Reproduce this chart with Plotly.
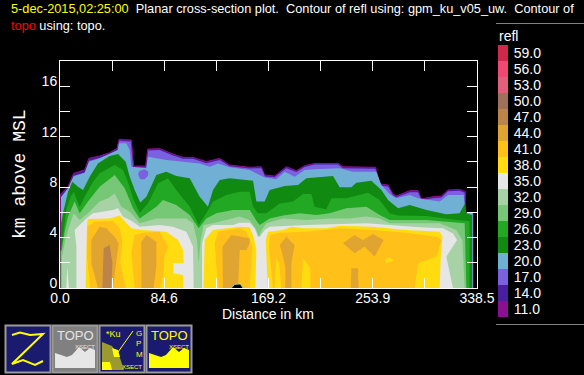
import plotly.graph_objects as go

W, H = 584, 375

# ---- colour scale categories ----
levels = [11.0, 14.0, 17.0, 20.0, 23.0, 26.0, 29.0, 32.0, 35.0, 38.0, 41.0, 44.0, 47.0, 50.0, 53.0, 56.0, 59.0]
level_colors = ["#8b1090", "#4a1e9e", "#7b60e0", "#6fb0d4", "#108a10", "#22a822", "#76c876", "#a6d2a6",
                "#e6e6e6", "#ffdc10", "#ffc01a", "#e0a530", "#bc8448", "#a0705a", "#e0607c", "#f04870", "#d0284a"]

# ---- contour outlines: distance (km) and height (km) for reflectivity >= level ----
d14 = [0.5,0.5,6.5,11.1,20,23.5,32.2,40.3,46.3,47.9,57.9,59.8,69.5,71.2,80.9,91.7,99.9,108,118.8,129.6,137.7,154,163.4,166.1,174.3,183.7,191.9,198.6,206.7,225.7,229.7,256.2,259.5,266.3,270.3,273,283.9,290.6,293.3,302.8,309.6,315,324.4,329,329,335.3,335.3]
h14 = [0,7.45,8.03,9.09,9.36,10.28,10.47,10.73,11.07,11.79,11.73,9.67,9.67,11.02,11.05,10.62,10.36,10.36,10.02,10.28,9.75,9.57,9.62,8.96,8.88,9.62,9.3,9.7,9.88,9.88,9.62,9.57,8.25,8.17,7.45,7.29,7.72,7.72,7.06,7.24,7.29,7.77,7.82,7.64,5.97,5.97,0]

d17 = [0.8,0.8,6.5,11.3,20.2,23.7,32.2,40.3,46.5,48.2,57.5,59.3,70,71.6,80.9,91.7,99.9,108,118.8,129.6,137.7,154,163.4,166.5,174.3,183.7,191.9,198.6,206.7,225.7,229.7,256,259.5,266.3,270.3,273,283.9,290.6,293.3,302.8,309.6,315,324.4,328.5,328.5,335,335]
h17 = [0,7.2,7.9,8.85,9.15,10.1,10.3,10.6,10.95,11.68,11.62,9.55,9.55,10.9,10.95,10.5,10.24,10.24,9.9,10.15,9.65,9.48,9.5,8.85,8.78,9.5,9.2,9.6,9.8,9.8,9.5,9.45,8.1,8.05,7.35,7.2,7.6,7.6,6.95,7.12,7.18,7.68,7.72,7.55,5.95,5.95,0]

d20 = [0.8,0.8,6.5,11.1,20,23.5,32.2,40.3,47.1,47.9,53.8,56.6,57.9,70.1,71.4,86.3,98.5,113.4,121.5,128.3,137.7,154,162.1,166.1,175.6,182.4,190.5,198.6,206.7,227,237.9,256.8,260.9,267.6,273,283.9,290.6,308.2,315,327.7,329,335,335]
h20 = [0,7.2,7.9,8.88,9.14,10.02,10.28,10.62,10.94,11.47,11.47,10.94,9.62,9.49,10.41,10.15,10.02,9.88,9.62,9.88,9.57,9.36,8.96,8.77,8.62,9.22,8.83,9.36,9.41,9.49,9.22,9.22,8.17,7.45,7.11,7.37,7.11,6.85,7.37,7.37,5.97,5.95,0]

d17_hole = [63.3,64.7,68.7,71.7,71.4,68.7,65.1]
h17_hole = [9.04,9.3,9.41,9.22,8.88,8.62,8.62]

d23 = [0.6,0.6,2.4,6.5,10,14.6,18.7,24.1,30.8,40.3,47.1,53.3,56.6,60.6,65.2,70.1,78.2,86.3,94.4,105.3,113.4,120.1,124.2,129.6,137.7,154,156.7,159.4,166.1,170.2,182.4,193.2,200,221.6,227,236.5,240.6,252.7,260.9,266.3,274.4,283.9,297.4,313.6,324.4,328.5,329.9,334.5,334.5]
h23 = [0,5.0,5.92,7.64,8.43,8.03,7.77,8.83,9.88,10.47,10.62,10.02,8.83,7.77,6.77,7.24,8.96,9.22,8.88,8.7,7.24,6.45,7.77,8.56,8.7,8.51,8.51,6.85,6.85,7.77,8.09,8.17,8.7,8.88,7.98,7.98,8.35,8.51,7.77,6.98,6.32,6.58,6.18,5.84,5.92,6.66,5.92,5.79,0]

d26 = [0.6,0.6,2.4,5.1,8.7,11.1,16,20,26.8,32.2,44.4,51.1,55.2,59.3,64.7,71.4,79.6,87.7,94.4,105.3,112.6,118.8,124.2,135,145.9,154,156.7,160.7,167.5,178.3,189.1,197.3,204,206.7,216.2,220.3,232.4,250,259.5,267.6,274.4,297.4,313.6,332.5,332.5]
h26 = [0,3.0,4.07,6.18,7.24,7.64,6.45,7.24,8.43,9.09,9.75,9.36,8.43,7.11,5.97,6.71,8.3,8.7,7.77,6.45,5.0,5.92,6.85,7.37,7.64,7.64,6.45,5.92,5.92,6.71,6.85,7.45,7.45,6.45,6.24,7.11,7.11,7.56,6.98,5.92,5.75,5.7,5.5,5.3,0]

d29 = [0.6,0.6,1.4,3.8,6.5,11.9,16,22.7,32.2,44.4,52.5,59.3,64.7,78.2,83.6,94.4,105.3,112.6,118.8,126.9,140.4,154,159.4,162.1,170.2,181,194.6,208.1,218.9,232.4,248.7,259.5,267.6,297.4,313.6,328.5,329.9]
h29 = [0,2.9,3.0,4.47,5.66,6.85,5.92,6.85,8.03,8.96,7.9,6.32,5.52,6.45,6.98,6.58,5.79,4.73,5.52,5.92,6.18,6.18,5.34,5.0,5.52,5.74,5.92,5.79,5.92,6.32,6.45,5.79,5.39,5.39,5.26,5.13,0]

d32 = [1.6,1.6,4.3,6.5,11.1,16,22.7,32.2,39,44.4,49.8,56.6,64.7,78.2,102.6,108,111.2,112.6,114.2,116.6,124.2,140.4,145.9,154,159.4,161.5,163.7,167.5,181,200,218.9,235,248.7,259.5,267.6,308.2,321.7,326.6,328.5]
h32 = [0,2.48,3.8,4.6,5.92,5.39,5.92,6.85,7.11,7.5,6.45,6.05,5.13,5.52,5.52,5.13,3.8,1.96,3.8,5.0,5.13,5.52,5.66,5.39,4.6,4.07,4.6,5.13,5.52,5.39,5.52,5.52,5.66,5.52,5.13,5.13,4.6,3.8,0]

d35 = [13.3,13.3,11.9,21.4,26.8,43,47.1,51.1,59.3,64.7,80.9,91.7,102.6,108,108.5,None,
       115.3,115.3,118.8,124.2,140.4,145.9,154,158,160.7,162.1,166.1,170.2,200,248.7,292,310.9,319,322.3,313.6,319,None,
       5.1,5.9,7.3]
h35 = [0,3.28,4.6,5.52,5.92,6.18,6.32,5.66,5.26,4.86,5.0,4.86,4.47,3.28,0,None,
       0,3.54,4.73,5.0,5.0,5.18,5.18,4.73,4.07,4.07,4.6,4.86,5.0,5.13,4.81,4.73,4.33,3.8,2.48,0,None,
       0,1.69,0]

d38 = [20.8,21.9,22.7,40.3,48.4,57.9,67.4,86.3,95.8,99.9,100.4,91.7,91.7,99.9,99.9,None,
       116.6,117.4,124.2,137.7,145.9,154,157.2,159.4,158.6,None,
       168.6,167,168.8,181,187.8,197.3,216.2,227,254.1,281.1,308.2,310.4,309,308.2]
h38 = [0,5.13,5.47,5.52,5.74,4.73,4.6,4.47,3.8,3.01,1.96,1.96,1.16,1.03,0,None,
       0,3.8,4.6,4.73,4.86,4.81,4.07,3.01,0,None,
       0,3.8,4.47,4.6,4.86,4.73,4.73,4.94,4.86,4.6,4.47,4.07,2.22,0]

d41 = [24.6,21.9,22.2,28.1,43,48.4,50.6,49,53.3,None,
       60.6,57.9,60.6,67.4,80.9,87.7,85,83.6,80.9,None,
       128.3,125.6,128.3,137.7,145.9,151.3,156.1,154,None,
       172.9,169.7,170.2,178.3,200,227,254.1,281.1,305.5,309.6,305.5,290.6,287.9]
h41 = [0,2.48,4.86,5.26,5.31,4.73,3.8,1.96,0,None,
       0,2.75,4.2,4.39,4.47,3.28,2.62,0.9,0,None,
       0,3.54,4.47,4.6,4.73,4.47,3.28,0,None,
       0,3.28,4.2,4.39,4.47,4.73,4.6,4.39,4.07,3.8,2.48,1.96,0]

d38_inner = [174.3,175.6,177.8,179.7,None,195.9,197.3,203.2,203.2,None,263.6,267.6,270.9,264.9]
h38_inner = [0,2.35,1.96,0,None,0,2.35,1.56,0,None,2.22,2.43,2.17,1.96]

d44 = [30.8,25.4,25.4,32.2,37.6,44.4,47.6,45.7,43,None,
       66,66,70.1,78.2,78.2,76,None,
       132.3,131.8,139.1,154,154,151.3,145.9,144.5,None,
       182.9,182.9,179.7,178.3,183.7,190.5,187.8,187.8,None,
       229.7,239.2,246,254.1,262.7,255.4,247.3,239.2,None,
       236,236.5,241.9,242.4]
h44 = [0,1.96,3.8,4.86,4.73,4.07,3.54,1.96,0,None,
       0,3.67,4.2,3.67,1.69,0,None,
       0,3.28,4.2,3.94,3.54,3.01,3.01,0,None,
       0,1.69,3.01,3.41,4.07,3.41,1.96,0,None,
       3.54,4.2,3.8,4.28,3.8,2.48,3.28,2.75,None,
       0,1.56,1.56,0]

d47 = [34.4,35.4,40.3,42.5,41.7]
h47 = [0,3.15,3.41,1.96,0]

topo_d = [139.1,141.8,146.4,148.6]
topo_h = [0,0.29,0.32,0]

# ---- axes ----
x_ticks = [0, 42.31, 84.62, 126.94, 169.25, 211.56, 253.88, 296.19, 338.5]
x_labels = ["0.0", "", "84.6", "", "169.2", "", "253.9", "", "338.5"]
y_ticks = [0, 2, 4, 6, 8, 10, 12, 14, 16]
y_labels = ["0", "", "4", "", "8", "", "12", "", "16"]

FONT = "Liberation Sans"

fig = go.Figure()


def band(x, y, color, line=None):
    fig.add_trace(go.Scatter(x=x, y=y, mode="lines", fill="toself", fillcolor=color,
                             line=dict(color=line or color, width=1 if line else 0),
                             hoverinfo="skip", showlegend=False, connectgaps=False))


c = dict(zip(levels, level_colors))
band(d14, h14, c[14.0], c[11.0])
band(d17, h17, c[17.0])
band(d20, h20, c[20.0])
band(d17_hole, h17_hole, c[17.0])
band(d23, h23, c[23.0])
band(d26, h26, c[26.0])
band(d29, h29, c[29.0])
band(d32, h32, c[32.0])
band(d35, h35, c[35.0])
band(d38, h38, c[38.0])
band(d41, h41, c[41.0])
band(d38_inner, h38_inner, c[38.0])
band(d44, h44, c[44.0])
band(d47, h47, c[47.0])
band(topo_d, topo_h, "#000000", "#9ad09a")

# colour key
fig.add_trace(go.Bar(x=[0] * len(levels), y=[1] * len(levels), base=list(range(len(levels))),
                     marker=dict(color=level_colors, line=dict(width=0)), width=1,
                     xaxis="x2", yaxis="y2", hoverinfo="skip", showlegend=False))

axis_common = dict(showgrid=False, zeroline=False, showline=True, linecolor="white", linewidth=1,
                   mirror="ticks", ticks="inside", ticklen=10, tickcolor="white", tickwidth=1,
                   automargin=False, tickfont=dict(family=FONT, size=14, color="white"))

fig.update_layout(
    width=W, height=H, autosize=False, paper_bgcolor="black", plot_bgcolor="black",
    margin=dict(l=0, r=0, t=0, b=0), bargap=0,
    font=dict(family=FONT, color="white"),
    xaxis=dict(domain=[60 / W, 477 / W], range=[0, 338.5], tickmode="array", tickvals=x_ticks,
               ticktext=x_labels, anchor="y", ticklabelstandoff=-3, **axis_common),
    yaxis=dict(domain=[(H - 288) / H, (H - 61) / H], range=[0, 18], tickmode="array", tickvals=y_ticks,
               ticktext=y_labels, anchor="x", ticklabelshift=-5, ticklabelstandoff=-1, **axis_common),
    xaxis2=dict(domain=[498 / W, 508 / W], range=[-0.5, 0.5], visible=False, anchor="y2", fixedrange=True,
                automargin=False),
    yaxis2=dict(domain=[(H - 317) / H, (H - 45) / H], range=[0, len(levels)], anchor="x2", side="right",
                tickmode="array", tickvals=[i + 0.5 for i in range(len(levels))],
                ticktext=[f"{v:.1f}" for v in levels], showgrid=False, zeroline=False, showline=False,
                ticks="outside", ticklen=2, tickcolor="black", automargin=False,
                tickfont=dict(family=FONT, size=14, color="white")),
)


def px(x):
    return x / W


def py(y):
    return (H - y) / H


def note(x, y, text, color="white", size=12, family=FONT, anchor="center", vanchor="middle", angle=0):
    fig.add_annotation(xref="paper", yref="paper", x=px(x), y=py(y), text=text, showarrow=False,
                       xanchor=anchor, yanchor=vanchor, align="left", textangle=angle,
                       font=dict(family=family, size=size, color=color), borderpad=0)


def rect(x0, y0, x1, y1, fill, line=None, lw=0):
    fig.add_shape(type="rect", xref="paper", yref="paper", x0=px(x0), x1=px(x1), y0=py(y0), y1=py(y1),
                  fillcolor=fill, line=dict(color=line or fill, width=lw), layer="above")


def path(points, fill=None, line=None, lw=0):
    d = "M" + " L".join(f"{px(a):.4f},{py(b):.4f}" for a, b in points) + (" Z" if fill else "")
    fig.add_shape(type="path", xref="paper", yref="paper", path=d, fillcolor=fill or "rgba(0,0,0,0)",
                  line=dict(color=line or "rgba(0,0,0,0)", width=lw), layer="above")


# header
note(10, 17, '<span style="color:#ffff00">5-dec-2015,02:25:00</span>&nbsp;&nbsp;Planar cross-section plot.&nbsp;&nbsp;'
     'Contour of refl using: gpm_ku_v05_uw.&nbsp;&nbsp;Contour of<br>'
     '<span style="color:#ff0000">topo</span> using: topo.', size=12.75, anchor="left")

# axis titles
note(268, 314, "Distance in km", size=14)
note(20, 174, "km above MSL", size=18, family="Liberation Mono", angle=-90)

# key title and rules
note(498, 36, "refl", size=14, anchor="left")
rect(496, 23, 584, 24, "#808080")
rect(496, 324, 584, 325, "#808080")

# button icons
NAVY = "#1a1a6e"
YEL = "#ffff00"
GREY = "#e6e6e6"
rect(5.5, 325.5, 50.5, 372.5, NAVY, "#9a9a9a", 2)
rect(52.5, 325.5, 97.5, 372.5, "#808080", "#9a9a9a", 2)
rect(99.5, 325.5, 144.5, 372.5, NAVY, "#9a9a9a", 2)
rect(146.5, 325.5, 191.5, 372.5, NAVY, "#9a9a9a", 2)

path([(12, 335), (20, 332.5), (30, 335), (43, 334), (12, 364), (23, 360), (35, 365), (43, 361)], None, YEL, 2)

for ox, fg in ((0, GREY), (94, YEL)):
    note(75 + ox, 335, "TOPO", color=fg, size=13)
    note(85 + ox, 347, "XSECT", color=fg, size=6)
    path([(55 + ox, 368), (55 + ox, 353), (67 + ox, 357), (72 + ox, 355), (79 + ox, 347), (85 + ox, 352),
          (90 + ox, 348), (95 + ox, 350), (95 + ox, 368)], fg)

path([(102, 370), (102, 342), (112, 346), (120, 358), (124, 370)], "#9a9a30")
path([(102, 370), (102, 362), (110, 362), (112, 370)], YEL)
path([(112, 348), (118, 350), (120, 357), (114, 357)], YEL)
path([(118, 352), (133, 331)], None, YEL, 1)
note(113, 334, "*Ku", color=YEL, size=9)
note(139, 344, "G<br>P<br>M", color=YEL, size=8)
note(132, 366.5, "XSECT", color=YEL, size=6)

fig.write_html("out.html", config=dict(displayModeBar=False),
               post_script="document.body.style.margin='0';document.body.style.background='black';")
